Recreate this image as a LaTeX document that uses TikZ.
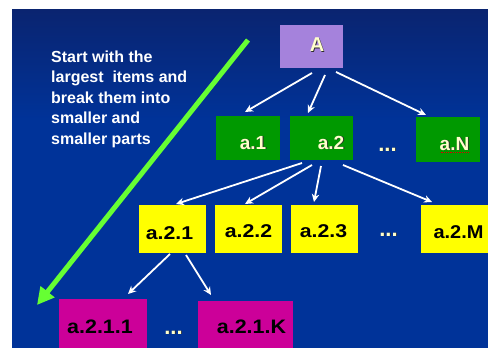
\documentclass[tikz,border=0pt]{standalone}
\usepackage{fontspec}
\setmainfont{Liberation Sans}
\usetikzlibrary{arrows.meta,calc}

\definecolor{bgtop}{RGB}{10,36,112}
\definecolor{bgblue}{RGB}{0,51,153}
\definecolor{lav}{RGB}{165,130,220}
\definecolor{grn}{RGB}{0,153,0}
\definecolor{ylw}{RGB}{255,255,0}
\definecolor{mag}{RGB}{204,0,153}
\definecolor{lime}{RGB}{102,255,51}
\definecolor{cream}{RGB}{255,255,204}
\definecolor{shade}{RGB}{45,45,45}

% text with a small dark drop shadow
\newcommand\shadowed[1]{\makebox[0pt][l]{\hspace{0.9pt}\raisebox{-0.9pt}{\textcolor{shade}{#1}}}#1}

\tikzset{
  box/.style={rectangle, inner sep=0pt, outer sep=0pt},
  lblA/.style={inner sep=0pt, anchor=base, text=cream,
    font=\bfseries\fontsize{20}{20}\selectfont},
  lblG/.style={inner sep=0pt, anchor=base, text=cream,
    font=\bfseries\fontsize{19}{19}\selectfont},
  lblY/.style={inner sep=0pt, anchor=base, text=black,
    font=\bfseries\fontsize{18.5}{18.5}\selectfont},
  lblM/.style={inner sep=0pt, anchor=base, text=black,
    font=\bfseries\fontsize{19.5}{19.5}\selectfont},
  dotsnode/.style={inner sep=0pt, anchor=base, text=cream,
    font=\bfseries\fontsize{22}{22}\selectfont},
  conn/.style={draw=white, line width=1.8pt,
    -{Stealth[length=8pt,width=7.5pt]}},
  bigarrow/.style={draw=lime, line width=5pt,
    -{Triangle[length=17pt,width=17pt]}},
}

\begin{document}
\begin{tikzpicture}[x=1pt,y=-1pt]
  \useasboundingbox (0,0) rectangle (488,348);

  % background panel
  \fill[white] (0,0) rectangle (488,348);
  \fill[bgblue] (12,120) rectangle (488,348);
  \shade[top color=bgtop, bottom color=bgblue] (12,9) rectangle (488,121);

  % explanatory text
  \node[inner sep=0pt, anchor=north west, align=left, text=white,
        font=\bfseries\fontsize{16}{20.5}\selectfont] (intro) at (51,50.5)
    {Start with the\\ largest\ \ items and\\ break them into\\ smaller and\\ smaller parts};

  % top level
  \node[box, fill=lav, minimum width=63pt, minimum height=43pt] (A) at (311.5,46.5) {};
  \node[lblA] (At) at (317,52) {\shadowed{A}};

  % second level
  \node[box, fill=grn, minimum width=64pt, minimum height=44pt] (a1) at (248,138) {};
  \node[box, fill=grn, minimum width=63pt, minimum height=44pt] (a2) at (321.5,138) {};
  \node[box, fill=grn, minimum width=64pt, minimum height=45pt] (aN) at (448,139.5) {};
  \node[lblG] (a1t) at (253,149) {\shadowed{a.1}};
  \node[lblG] (a2t) at (331,149) {\shadowed{a.2}};
  \node[lblG] (aNt) at (454.5,150) {\shadowed{a.N}};
  \node[dotsnode] (dots1) at (387.5,151) {\shadowed{...}};
  \draw[red!85!black, line width=0.7pt, dash pattern=on 1pt off 0.8pt]
    ($(aNt.base west)+(1,2.5)$) -- ($(aNt.base east)+(-1,2.5)$);

  % third level
  \node[box, fill=ylw, minimum width=67pt, minimum height=48pt] (a21) at (172.5,229) {};
  \node[box, fill=ylw, minimum width=67pt, minimum height=48pt] (a22) at (248.5,229) {};
  \node[box, fill=ylw, minimum width=67pt, minimum height=48pt] (a23) at (324.5,229) {};
  \node[box, fill=ylw, minimum width=67pt, minimum height=48pt] (a2M) at (454.5,229) {};
  \node[lblY] (a21t) at (169.5,239) {\scalebox{1.15}[1]{a.2.1}};
  \node[lblY] (a22t) at (248.5,237) {\scalebox{1.15}[1]{a.2.2}};
  \node[lblY] (a23t) at (323.5,237) {\scalebox{1.15}[1]{a.2.3}};
  \node[lblY] (a2Mt) at (458.5,238) {\scalebox{1.08}[1]{a.2.M}};
  \node[dotsnode] (dots2) at (388.5,236) {\shadowed{...}};

  % fourth level
  \node[box, fill=mag, minimum width=88pt, minimum height=49pt] (a211) at (103,323.5) {};
  \node[box, fill=mag, minimum width=95pt, minimum height=47pt] (a21K) at (245.5,324.5) {};
  \node[lblM] (a211t) at (100,333) {\scalebox{1.1}[1]{a.2.1.1}};
  \node[lblM] (a21Kt) at (251.5,333) {\scalebox{1.1}[1]{a.2.1.K}};
  \node[dotsnode] (dots3) at (173.5,334) {\shadowed{...}};

  % connectors
  \draw[conn] ($(A.south)+(0.5,5)$)    -- ($(a1.north)+(-3,-4)$);
  \draw[conn] ($(A.south)+(13.5,7)$)   -- ($(a2.north)+(-13.5,-3)$);
  \draw[conn] ($(A.south)+(24.5,4)$)   -- ($(aN.north)+(-22,-2)$);
  \draw[conn] ($(a2.south)+(-19.5,3)$) -- ($(a21.north)+(3.5,-1)$);
  \draw[conn] ($(a2.south)+(-9.5,5)$)  -- ($(a22.north)+(-3.5,-1)$);
  \draw[conn] ($(a2.south)+(-0.5,6)$)  -- ($(a23.north)+(-10.5,-3)$);
  \draw[conn] ($(a2.south)+(21.5,5)$)  -- ($(a2M.north)+(-22.5,-3)$);
  \draw[conn] ($(a21.south)+(-2.5,1)$) -- ($(a211.north)+(25,-5)$);
  \draw[conn] ($(a21.south)+(13.5,2)$) -- ($(a21K.north)+(-34.5,-6)$);

  % top-down direction arrow
  \coordinate (gs) at (248,40);
  \coordinate (ge) at (37,305);
  \draw[bigarrow] (gs) -- (ge);
\end{tikzpicture}
\end{document}
